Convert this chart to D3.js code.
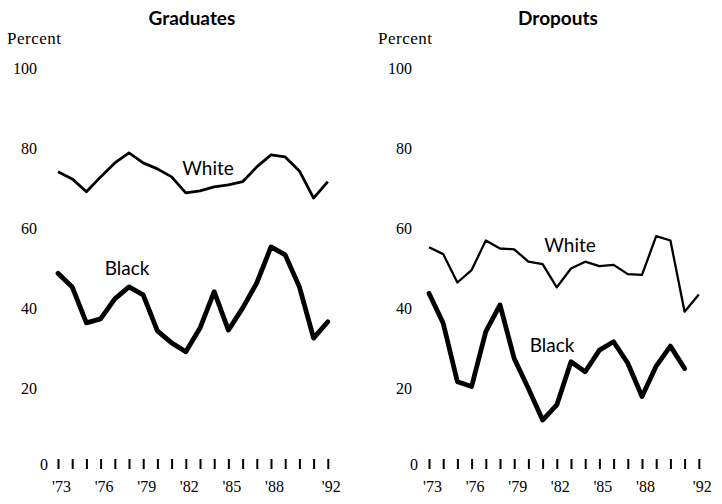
<!DOCTYPE html>
<html><head><meta charset="utf-8">
<script src="https://cdn.jsdelivr.net/npm/d3@7"></script>
<style>
body{margin:0;background:#fff;}
svg{display:block;}
</style></head>
<body>
<svg id="c" width="722" height="504"></svg>
<script>
const years = [1973,1974,1975,1976,1977,1978,1979,1980,1981,1982,1983,1984,1985,1986,1987,1988,1989,1990,1991,1992];
const yearLabels = {1973:"'73",1976:"'76",1979:"'79",1982:"'82",1985:"'85",1988:"'88",1992:"'92"};
const yTicks = [0,20,40,60,80,100];
const panelTitles = ["Graduates","Dropouts"];
const gradWhite = [74.2,72.4,69.2,72.9,76.4,78.9,76.4,74.9,72.9,68.9,69.4,70.4,70.9,71.7,75.4,78.4,77.9,74.4,67.6,71.7];
const gradBlack = [48.8,45.4,36.4,37.4,42.4,45.4,43.4,34.4,31.4,29.2,35.1,44.2,34.6,40.1,46.4,55.4,53.4,45.4,32.6,36.7];
const dropWhite = [55.3,53.6,46.5,49.6,57.0,55.0,54.8,51.7,51.1,45.3,50.0,51.7,50.6,50.9,48.6,48.4,58.1,57.0,39.2,43.5];
const dropBlack = [43.8,36.3,21.7,20.5,34.2,40.9,27.5,20.0,12.1,15.9,26.7,24.2,29.6,31.7,26.3,18.0,25.6,30.6,25.0,null];

const svg = d3.select("#c");
const numFont = "Liberation Serif, serif";
const txtFont = "Lato, 'Open Sans', sans-serif";

const panels = [
  {x0:58, title:panelTitles[0], titleX:192, white:gradWhite, black:gradBlack, whiteW:2.8,
   whiteLab:[208,175], blackLab:[127,275], yLabX:37, zeroX:44, pctX:7},
  {x0:429, title:panelTitles[1], titleX:558, white:dropWhite, black:dropBlack, whiteW:2.3,
   whiteLab:[570,252], blackLab:[552,352], yLabX:412, zeroX:414, pctX:378}
];

const y = d3.scaleLinear().domain([0,100]).range([468.5,68.5]);

panels.forEach(p => {
  const x = d3.scaleLinear().domain([1973,1992]).range([p.x0, p.x0 + 14.2*19]);
  const g = svg.append("g");

  g.append("text").attr("x", p.titleX).attr("y", 25).attr("text-anchor","middle")
    .attr("font-family", txtFont).attr("font-weight","bold").attr("font-size",19).text(p.title);
  g.append("text").attr("x", p.pctX).attr("y", 44)
    .attr("font-family", numFont).attr("font-size",17).attr("letter-spacing",0.5).text("Percent");

  // y labels
  const ya = d3.axisLeft(y).tickValues(yTicks.filter(v=>v>0)).tickSize(0).tickPadding(0);
  const yg = g.append("g").attr("transform",`translate(${p.yLabX},0)`).call(ya);
  yg.select(".domain").remove();
  yg.selectAll("text").attr("font-family", numFont).attr("font-size",16).attr("fill","#000");
  g.append("text").attr("x", p.zeroX).attr("y", y(0)-4).attr("dy","0.32em").attr("text-anchor","middle")
    .attr("font-family", numFont).attr("font-size",16).text(yTicks[0]);

  // x axis ticks + year labels
  const xa = d3.axisBottom(x).tickValues(years).tickSize(10).tickPadding(12)
    .tickFormat(d => yearLabels[d] || "");
  const xg = g.append("g").attr("transform","translate(0,459)").call(xa);
  xg.select(".domain").remove();
  xg.selectAll(".tick line").attr("stroke","#000").attr("stroke-width",2);
  xg.selectAll("text").attr("font-family", numFont).attr("font-size",16).attr("fill","#000").attr("dx",3);

  const line = d3.line().defined(d => d[1] != null).x(d => x(d[0])).y(d => y(d[1]));
  g.append("path").datum(years.map((yr,i)=>[yr,p.white[i]]))
    .attr("d", line).attr("fill","none").attr("stroke","#000").attr("stroke-width",p.whiteW)
    .attr("stroke-linejoin","round");
  g.append("path").datum(years.map((yr,i)=>[yr,p.black[i]]))
    .attr("d", line).attr("fill","none").attr("stroke","#000").attr("stroke-width",4.8)
    .attr("stroke-linejoin","round").attr("stroke-linecap","round");

  g.append("text").attr("x", p.whiteLab[0]).attr("y", p.whiteLab[1]).attr("text-anchor","middle")
    .attr("font-family", txtFont).attr("font-size",19).text("White");
  g.append("text").attr("x", p.blackLab[0]).attr("y", p.blackLab[1]).attr("text-anchor","middle")
    .attr("font-family", txtFont).attr("font-size",19).text("Black");
});
</script>
</body></html>
